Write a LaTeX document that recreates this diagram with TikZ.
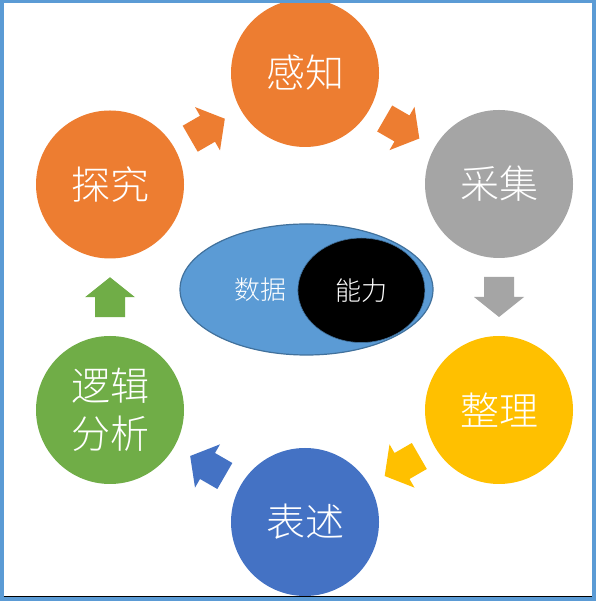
\documentclass[tikz,border=0pt]{standalone}
\usepackage{fontspec}
\newfontfamily\cjk{Noto Sans CJK SC Light}
\usetikzlibrary{calc,shapes.geometric}
\definecolor{corange}{HTML}{ED7D31}
\definecolor{cgray}{HTML}{A5A5A5}
\definecolor{cyellow}{HTML}{FFC000}
\definecolor{cblue}{HTML}{4472C4}
\definecolor{cgreen}{HTML}{70AD47}
\definecolor{clight}{HTML}{5B9BD5}
\definecolor{cdark}{HTML}{41719C}
\begin{document}
\begin{tikzpicture}[x=1pt,y=1pt,
  stage/.style={circle, minimum size=148pt, inner sep=0pt, text=white,
    font=\cjk\fontsize{39}{48}\selectfont, align=center},
  centertext/.style={text=white, font=\cjk\fontsize{26}{30}\selectfont, inner sep=0pt}
]
\useasboundingbox (0,0) rectangle (596,601);
\fill[white] (0,0) rectangle (596,601);

\node[stage, fill=corange] (ganzhi) at (305,528) {感知};
\node[stage, fill=cgray]   (caiji)  at (499,417) {采集};
\node[stage, fill=cyellow] (zhengli) at (499,191) {整理};
\node[stage, fill=cblue]   (biaoshu) at (305,79) {表述};
\node[stage, fill=cgreen]  (luoji)  at (110,191) {逻辑\\分析};
\node[stage, fill=corange] (tanjiu) at (110,416.5) {探究};

\node[ellipse, fill=clight, draw=cdark, line width=1.2pt,
  minimum width=253pt, minimum height=131pt, inner sep=0pt] (data) at (306.5,311.5) {};
\node[ellipse, fill=black, draw=cdark, line width=0.6pt,
  minimum width=127pt, minimum height=104.5pt, inner sep=0pt] (ability) at (361.4,310.7) {};
\node[centertext] (datatext) at (260,311) {数据};
\node[centertext] (abilitytext) at (ability) {能力};

\newcommand{\blockarrowpath}{(-20,-15) -- (0,-15) -- (0,-25) -- (20,0) -- (0,25) -- (0,15) -- (-20,15) -- cycle}
\begin{scope}[shift={($(tanjiu)!0.5!(ganzhi)$)}, rotate=30]
  \fill[corange] \blockarrowpath;
\end{scope}
\begin{scope}[shift={($(ganzhi)!0.5!(caiji)$)}, rotate=-30]
  \fill[corange] \blockarrowpath;
\end{scope}
\begin{scope}[shift={($(caiji)!0.5!(zhengli)$)}, rotate=-90]
  \fill[cgray] \blockarrowpath;
\end{scope}
\begin{scope}[shift={($(zhengli)!0.5!(biaoshu)$)}, rotate=210]
  \fill[cyellow] \blockarrowpath;
\end{scope}
\begin{scope}[shift={($(biaoshu)!0.5!(luoji)$)}, rotate=150]
  \fill[cblue] \blockarrowpath;
\end{scope}
\begin{scope}[shift={($(luoji)!0.5!(tanjiu)$)}, rotate=90]
  \fill[cgreen] \blockarrowpath;
\end{scope}

\draw[clight, line width=3.5pt] (1.75,1.75) rectangle (594,599.25);
\draw[black, line width=1pt] (3.5,4.3) -- (592.2,4.3);
\end{tikzpicture}
\end{document}
